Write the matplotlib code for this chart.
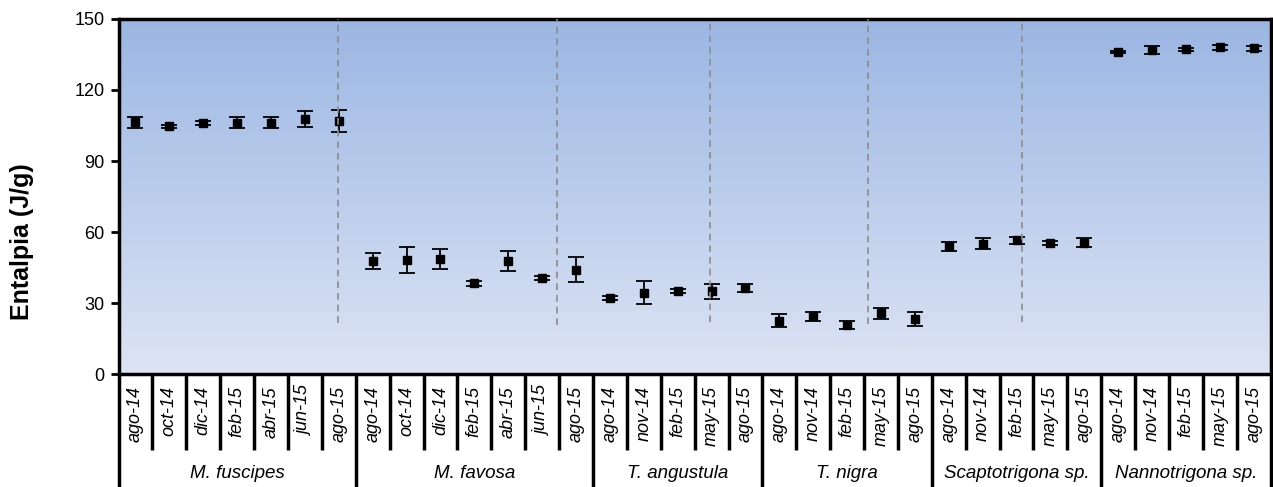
import numpy as np
import matplotlib
matplotlib.use("Agg")
import matplotlib.pyplot as plt
from matplotlib.colors import LinearSegmentedColormap

plt.rcParams['font.family'] = ['Liberation Sans', 'DejaVu Sans']

# especies y fechas de muestreo
especies = ["M. fuscipes", "M. favosa", "T. angustula", "T. nigra",
            "Scaptotrigona sp.", "Nannotrigona sp."]
fechas = [
    ["ago-14", "oct-14", "dic-14", "feb-15", "abr-15", "jun-15", "ago-15"],
    ["ago-14", "oct-14", "dic-14", "feb-15", "abr-15", "jun-15", "ago-15"],
    ["ago-14", "nov-14", "feb-15", "may-15", "ago-15"],
    ["ago-14", "nov-14", "feb-15", "may-15", "ago-15"],
    ["ago-14", "nov-14", "feb-15", "may-15", "ago-15"],
    ["ago-14", "nov-14", "feb-15", "may-15", "ago-15"],
]

# entalpia media (J/g) y desviacion
entalpia = [106.3, 104.6, 106.0, 106.2, 106.2, 107.7, 106.9,
            47.7, 48.3, 48.6, 38.3, 47.9, 40.6, 44.1,
            32.0, 34.4, 35.1, 35.0, 36.4,
            22.6, 24.4, 20.8, 25.6, 23.2,
            53.9, 55.1, 56.6, 55.3, 55.5,
            136.1, 136.9, 137.2, 138.0, 137.6]
desv = [2.4, 0.7, 0.8, 2.4, 2.4, 3.5, 4.6,
        3.5, 5.5, 4.2, 1.0, 4.2, 1.0, 5.2,
        0.8, 4.8, 0.7, 3.1, 1.6,
        2.8, 1.8, 1.8, 2.5, 3.0,
        1.8, 2.4, 1.5, 1.0, 1.8,
        0.5, 1.5, 0.7, 1.0, 1.2]

# lineas punteadas de separacion (posicion en categorias, valor inferior)
sep_x = [5.98, 12.44, 16.95, 21.62, 26.16]
sep_ybot = [21.6, 20.6, 22.0, 21.3, 22.0]

n = len(entalpia)
x = np.arange(n)

fig = plt.figure(figsize=(12.73, 4.87), dpi=100)
ax = fig.add_axes([0.0931, 0.232, 0.9051, 0.729])

# fondo degradado
cmap = LinearSegmentedColormap.from_list("fondo", ["#9bb6e3", "#dde4f4"])
grad = np.linspace(0, 1, 256).reshape(-1, 1)
ax.imshow(grad, extent=[-0.5, n - 0.5, 0, 150], aspect='auto', cmap=cmap,
          zorder=0, interpolation='bicubic')

ax.errorbar(x, entalpia, yerr=desv, fmt='s', color='black', ms=6,
            capsize=6, elinewidth=1.3, capthick=1.3, zorder=3)

for xs, yb in zip(sep_x, sep_ybot):
    ax.plot([xs, xs], [yb, 150], color='#8c8c8c', lw=1.2,
            dashes=(4, 3), zorder=4)

ax.set_xlim(-0.5, n - 0.5)
ax.set_ylim(0, 150)
ax.set_yticks([0, 30, 60, 90, 120, 150])
ax.tick_params(axis='y', direction='out', length=6, width=2,
               labelsize=13, pad=4)
ax.set_xticks([])
for s in ax.spines.values():
    s.set_linewidth(2.5)
    s.set_color('black')

# etiquetas de fechas y separadores
tr = ax.get_xaxis_transform()
i = 0
for g, (esp, fs) in enumerate(zip(especies, fechas)):
    start = i
    for f in fs:
        ax.text(i, -0.035, f, rotation=90, ha='center', va='top',
                fontsize=13, style='italic', transform=tr)
        if i > start:
            ax.plot([i - 0.5, i - 0.5], [0, -0.214], color='black', lw=2.5,
                    transform=tr, clip_on=False, solid_capstyle='butt')
        i += 1
    ax.plot([start - 0.5, start - 0.5], [0, -0.318], color='black', lw=2.5,
            transform=tr, clip_on=False, solid_capstyle='butt')
    ax.text((start + i - 1) / 2, -0.279, esp, ha='center', va='center',
            fontsize=13.5, style='italic', transform=tr)
ax.plot([n - 0.5, n - 0.5], [0, -0.318], color='black', lw=2.5,
        transform=tr, clip_on=False, solid_capstyle='butt')

fig.text(0.0175, 0.504, "Entalpia (J/g)", rotation=90, ha='center',
         va='center', fontsize=18, fontweight='bold')

fig.savefig("out.png", dpi=100)
